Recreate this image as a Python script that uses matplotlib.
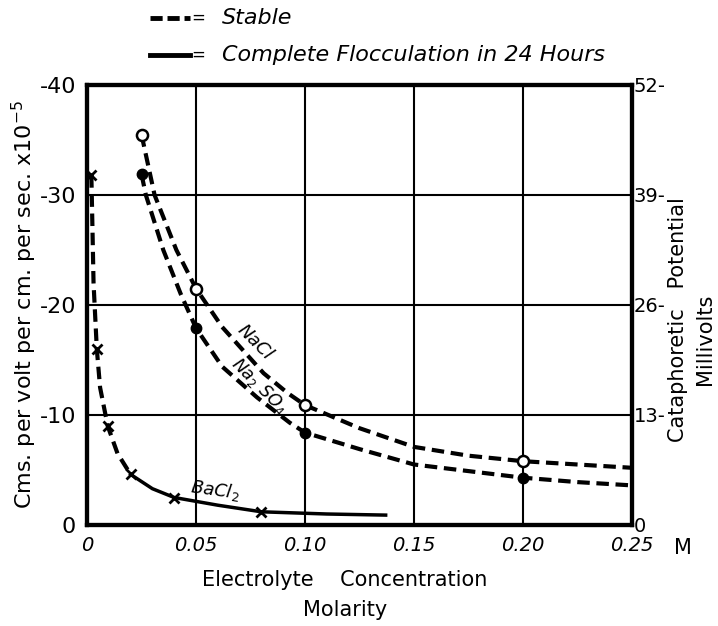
import numpy as np
import matplotlib
matplotlib.use('Agg')
import matplotlib.pyplot as plt
from matplotlib.lines import Line2D

# measured points (mobility, cm/volt/cm/sec x 10^-5, negative)
nacl_x = [0.025, 0.05, 0.10, 0.20]
nacl_y = [-35.5, -21.5, -10.9, -5.8]
na2so4_x = [0.025, 0.05, 0.10, 0.20]
na2so4_y = [-31.9, -17.9, -8.4, -4.3]
bacl2_x = [0.002, 0.0045, 0.0095, 0.02, 0.04, 0.08]
bacl2_y = [-31.8, -16.0, -9.0, -4.6, -2.5, -1.2]

# drawn curves
nacl_curve_x = [0.025, 0.031, 0.041, 0.05, 0.062, 0.081, 0.092, 0.10, 0.125, 0.15, 0.175, 0.20, 0.225, 0.25]
nacl_curve_y = [-35.5, -30.0, -25.0, -21.5, -18.0, -13.8, -12.0, -10.9, -8.8, -7.1, -6.3, -5.8, -5.5, -5.2]
na2so4_curve_x = [0.025, 0.027, 0.035, 0.043, 0.05, 0.062, 0.078, 0.093, 0.10, 0.125, 0.15, 0.175, 0.20, 0.225, 0.25]
na2so4_curve_y = [-31.9, -30.0, -25.0, -21.0, -17.9, -14.4, -11.6, -9.3, -8.4, -6.9, -5.5, -4.9, -4.3, -3.9, -3.6]
bacl2_stable_x = [0.002, 0.0025, 0.003, 0.0045, 0.006, 0.0095, 0.014, 0.02]
bacl2_stable_y = [-31.8, -27.0, -22.0, -16.0, -12.5, -9.0, -6.5, -4.6]
bacl2_floc_x = [0.02, 0.03, 0.04, 0.06, 0.08, 0.11, 0.137]
bacl2_floc_y = [-4.6, -3.3, -2.5, -1.8, -1.2, -1.0, -0.9]

x_ticks = [0, 0.05, 0.10, 0.15, 0.20, 0.25]
x_labels = ['0', '0.05', '0.10', '0.15', '0.20', '0.25']
left_ticks = [0, -10, -20, -30, -40]
left_labels = ['0', '-10', '-20', '-30', '-40']
right_ticks = [0, 13, 26, 39, 52]
right_labels = ['0', '13-', '26-', '39-', '52-']

W, H = 718, 626
fig = plt.figure(figsize=(W / 100, H / 100), dpi=100)
ax = fig.add_axes([87 / W, 1 - 525 / H, (632 - 87) / W, (525 - 85) / H])
ax.set_xlim(0, 0.25)
ax.set_ylim(0, -40)

for s in ax.spines.values():
    s.set_linewidth(3)
ax.set_xticks(x_ticks)
ax.set_xticklabels(x_labels, fontsize=14, fontstyle='italic')
ax.set_yticks(left_ticks)
ax.set_yticklabels(left_labels, fontsize=16)
ax.tick_params(length=0, pad=8)
ax.grid(True, color='black', lw=1.5)

dash = dict(color='black', lw=3, dashes=(3, 1.6))
ax.plot(nacl_curve_x, nacl_curve_y, **dash)
ax.plot(na2so4_curve_x, na2so4_curve_y, **dash)
ax.plot(bacl2_stable_x, bacl2_stable_y, **dash)
ax.plot(bacl2_floc_x, bacl2_floc_y, color='black', lw=2.5)

ax.plot(nacl_x, nacl_y, 'o', ms=8, mfc='white', mec='black', mew=1.8)
ax.plot(na2so4_x, na2so4_y, 'o', ms=7.5, color='black')
ax.plot(bacl2_x, bacl2_y, 'x', ms=7, color='black', mew=2)

ax.text(0.077, -16.6, 'NaCl', rotation=-45, fontsize=13, fontstyle='italic',
        ha='center', va='center')
ax.text(0.079, -12.6, 'Na$_2$ SO$_4$', rotation=-45, fontsize=12.5, fontstyle='italic',
        ha='center', va='center')
ax.text(0.059, -3.2, 'BaCl$_2$', rotation=-8, fontsize=13, fontstyle='italic',
        ha='center', va='center')

ax2 = ax.twinx()
ax2.set_ylim(0, 52)
ax2.set_yticks(right_ticks)
ax2.set_yticklabels(right_labels, fontsize=14)
ax2.tick_params(length=0, pad=1)
for s in ax2.spines.values():
    s.set_linewidth(3)

# axis titles
fig.text(683 / W, 1 - 548 / H, 'M', fontsize=15, ha='center', va='center')
fig.text(345 / W, 1 - 580 / H, 'Electrolyte    Concentration', fontsize=15,
         ha='center', va='center')
fig.text(345 / W, 1 - 610 / H, 'Molarity', fontsize=15, ha='center', va='center')
fig.text(24 / W, 1 - 305 / H, 'Cms. per volt per cm. per sec. x10$^{-5}$', fontsize=16,
         rotation=90, ha='center', va='center')
fig.text(678 / W, 1 - 320 / H, 'Cataphoretic   Potential', fontsize=15,
         rotation=90, ha='center', va='center')
fig.text(705 / W, 1 - 339 / H, 'Millivolts', fontsize=15,
         rotation=90, ha='center', va='center')

# key at top
fig.add_artist(Line2D([150 / W, 190 / W], [1 - 18 / H] * 2, transform=fig.transFigure,
                      color='black', lw=3.5, dashes=(2.5, 1.0)))
fig.add_artist(Line2D([150 / W, 190 / W], [1 - 55 / H] * 2, transform=fig.transFigure,
                      color='black', lw=3.5))
fig.text(198 / W, 1 - 18 / H, '=', fontsize=12, ha='center', va='center')
fig.text(198 / W, 1 - 55 / H, '=', fontsize=12, ha='center', va='center')
fig.text(222 / W, 1 - 18 / H, 'Stable', fontsize=16, fontstyle='italic', va='center')
fig.text(222 / W, 1 - 55 / H, 'Complete Flocculation in 24 Hours', fontsize=16,
         fontstyle='italic', va='center')

fig.savefig('out.png', dpi=100)
